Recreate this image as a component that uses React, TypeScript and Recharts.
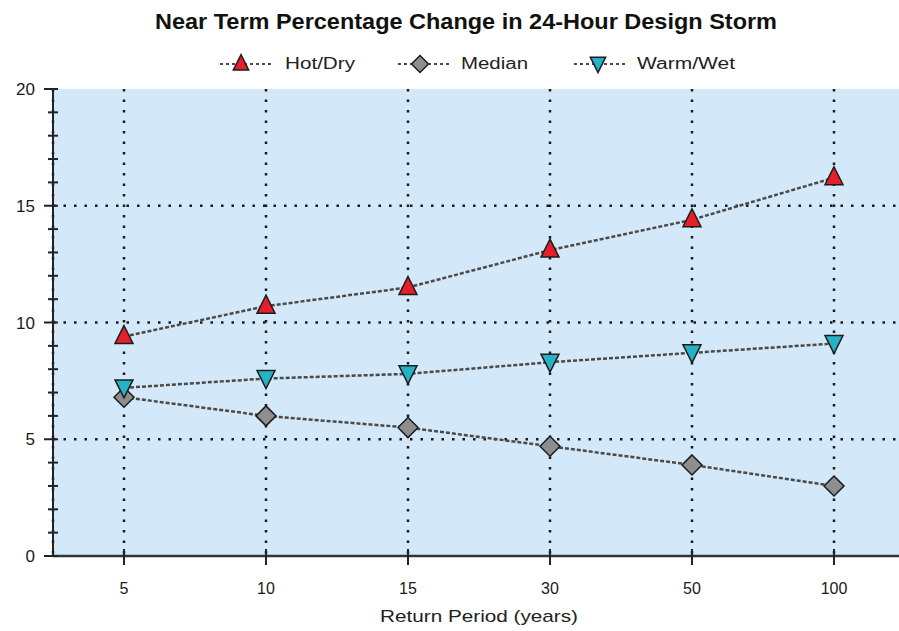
import React from 'react';
import { LineChart, Line, XAxis, YAxis, CartesianGrid, ReferenceLine } from 'recharts';

const categories = ['5', '10', '15', '30', '50', '100'];
const hotDry = [9.4, 10.7, 11.5, 13.1, 14.4, 16.2];
const median = [6.8, 6.0, 5.5, 4.7, 3.9, 3.0];
const warmWet = [7.2, 7.6, 7.8, 8.3, 8.7, 9.1];

const yTicks = [0, 1, 2, 3, 4, 5, 6, 7, 8, 9, 10, 11, 12, 13, 14, 15, 16, 17, 18, 19, 20];
const majorYTicks = [0, 5, 10, 15, 20];
const gridYValues = [5, 10, 15];

const title = 'Near Term Percentage Change in 24-Hour Design Storm';
const xAxisTitle = 'Return Period (years)';

const data = categories.map((c, i) => ({
  period: c,
  hotDry: hotDry[i],
  median: median[i],
  warmWet: warmWet[i],
}));

const FONT = '"Liberation Sans", Arial, sans-serif';
const RED = '#e5202b';
const GRAY = '#8e8e8e';
const TEAL = '#26b2c6';
const OUTLINE = '#1c1c1c';
const LINE = '#4a4a4a';
const BG = '#d3e8f8';

const UpTri = ({ cx, cy, s = 1 }: any) => {
  if (cx == null || cy == null) return null;
  const w = 9 * s;
  return (
    <polygon
      points={`${cx},${cy - 11 * s} ${cx + w},${cy + 7 * s} ${cx - w},${cy + 7 * s}`}
      fill={RED}
      stroke={OUTLINE}
      strokeWidth={1.5}
      strokeLinejoin="miter"
    />
  );
};

const DownTri = ({ cx, cy, s = 1 }: any) => {
  if (cx == null || cy == null) return null;
  const w = 9 * s;
  return (
    <polygon
      points={`${cx - w},${cy - 8 * s} ${cx + w},${cy - 8 * s} ${cx},${cy + 10 * s}`}
      fill={TEAL}
      stroke={OUTLINE}
      strokeWidth={1.5}
    />
  );
};

const Diamond = ({ cx, cy, s = 1 }: any) => {
  if (cx == null || cy == null) return null;
  const r = 10 * s;
  return (
    <polygon
      points={`${cx},${cy - r} ${cx + r},${cy} ${cx},${cy + r} ${cx - r},${cy}`}
      fill={GRAY}
      stroke={OUTLINE}
      strokeWidth={1.5}
    />
  );
};

const YTick = (props: any) => {
  const { x, y, payload } = props;
  const v = payload.value;
  const major = majorYTicks.includes(v);
  return (
    <g>
      <line x1={major ? x - 9 : x - 5} x2={x + 5} y1={y} y2={y} stroke="#222" strokeWidth={2} />
      {major && (
        <text x={x - 18} y={y} dy={6} textAnchor="end" fontSize={17} fill="#1a1a1a" fontFamily={FONT}>
          {v}
        </text>
      )}
    </g>
  );
};

const XTick = (props: any) => {
  const { x, y, payload } = props;
  return (
    <g>
      <line x1={x} x2={x} y1={y - 7} y2={y + 9} stroke="#222" strokeWidth={2} />
      <text x={x} y={y + 38} textAnchor="middle" fontSize={16} fill="#1a1a1a" fontFamily={FONT}>
        {payload.value}
      </text>
    </g>
  );
};

const TopTick = (props: any) => {
  const { x, y } = props;
  return <line x1={x} x2={x} y1={y} y2={y + 8} stroke="#222" strokeWidth={2} />;
};

const legendItems = [
  { name: 'Hot/Dry', x0: 220, mx: 241, tx: 285, tl: 70, Shape: UpTri },
  { name: 'Median', x0: 398, mx: 420, tx: 461, tl: 67, Shape: Diamond },
  { name: 'Warm/Wet', x0: 574, mx: 598, tx: 637, tl: 98, Shape: DownTri },
];

export default function App() {
  return (
    <div style={{ position: 'absolute', left: 0, top: 0, width: 899, height: 631, overflow: 'hidden', background: '#fff' }}>
      <LineChart
        width={920}
        height={631}
        data={data}
        margin={{ top: 89, right: 15, bottom: 0, left: 0 }}
      >
        <CartesianGrid
          fill={BG}
          fillOpacity={1}
          horizontal={false}
          vertical={true}
          stroke="#1a1a1a"
          strokeWidth={2.5}
          strokeDasharray="2.5 8"
        />
        {gridYValues.map((v) => (
          <ReferenceLine
            key={v}
            y={v}
            stroke="#1a1a1a"
            strokeWidth={2.5}
            strokeDasharray="2.5 8"
          />
        ))}
        <XAxis
          dataKey="period"
          scale="band"
          height={75}
          tickSize={0}
          tickMargin={0}
          tick={<XTick />}
          tickLine={false}
          interval={0}
          axisLine={{ stroke: '#333', strokeWidth: 2.5 }}
        />
        <XAxis
          xAxisId="top"
          orientation="top"
          dataKey="period"
          scale="band"
          height={0}
          tickSize={0}
          tickMargin={0}
          tick={<TopTick />}
          tickLine={false}
          interval={0}
          axisLine={{ stroke: '#222', strokeWidth: 2 }}
        />
        <YAxis
          width={53}
          domain={[0, 20]}
          ticks={yTicks}
          interval={0}
          tickSize={0}
          tickMargin={0}
          tickLine={false}
          tick={<YTick />}
          axisLine={{ stroke: '#222', strokeWidth: 2 }}
        />
        <Line
          dataKey="median"
          stroke={LINE}
          strokeWidth={2.5}
          strokeDasharray="4 2"
          dot={<Diamond />}
          isAnimationActive={false}
        />
        <Line
          dataKey="warmWet"
          stroke={LINE}
          strokeWidth={2.5}
          strokeDasharray="4 2"
          dot={<DownTri />}
          isAnimationActive={false}
        />
        <Line
          dataKey="hotDry"
          stroke={LINE}
          strokeWidth={2.5}
          strokeDasharray="4 2"
          dot={<UpTri />}
          isAnimationActive={false}
        />
      </LineChart>
      <svg
        width={899}
        height={631}
        style={{ position: 'absolute', left: 0, top: 0, pointerEvents: 'none' }}
      >
        <text
          x={466}
          y={29}
          textAnchor="middle"
          fontSize={22}
          fontWeight="bold"
          fill="#111"
          fontFamily={FONT}
          textLength={622}
          lengthAdjust="spacingAndGlyphs"
        >
          {title}
        </text>
        {legendItems.map((it) => (
          <g key={it.name}>
            <line
              x1={it.x0}
              x2={it.x0 + 54}
              y1={64}
              y2={64}
              stroke={LINE}
              strokeWidth={2}
              strokeDasharray="3 3"
            />
            <it.Shape cx={it.mx} cy={64} s={0.85} />
            <text
              x={it.tx}
              y={69}
              fontSize={16}
              fill="#222"
              fontFamily={FONT}
              textLength={it.tl}
              lengthAdjust="spacingAndGlyphs"
            >
              {it.name}
            </text>
          </g>
        ))}
        <text
          x={479}
          y={622}
          textAnchor="middle"
          fontSize={17}
          fill="#222"
          fontFamily={FONT}
          textLength={198}
          lengthAdjust="spacingAndGlyphs"
        >
          {xAxisTitle}
        </text>
      </svg>
    </div>
  );
}
